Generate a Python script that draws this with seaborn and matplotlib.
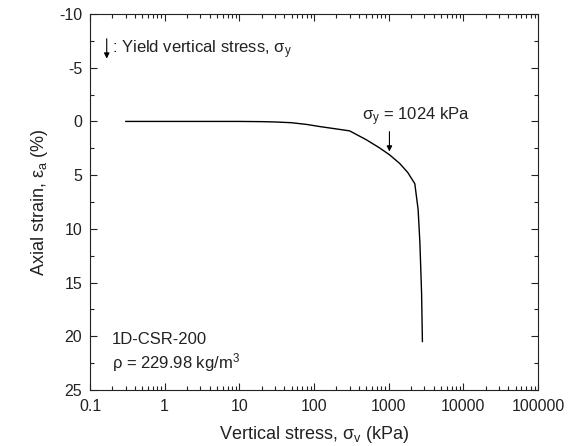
import numpy as np
import pandas as pd
import matplotlib
matplotlib.use("Agg")
import matplotlib.pyplot as plt
import seaborn as sns
from matplotlib.ticker import LogLocator, FixedLocator, NullFormatter, FixedFormatter

# ---- data ----
stress_kpa = [0.3, 1, 3, 10, 20, 30, 50, 80, 120, 200, 300, 500, 750, 1024,
              1400, 1800, 2240, 2480, 2620, 2760, 2830]
strain_pct = [0.0, 0.0, 0.0, 0.0, 0.02, 0.05, 0.12, 0.28, 0.48, 0.70, 0.88,
              1.70, 2.45, 3.10, 3.90, 4.75, 5.80, 8.20, 11.30, 16.00, 20.50]
yield_stress = 1024
x_ticks = [0.1, 1, 10, 100, 1000, 10000, 100000]
x_ticklabels = ["0.1", "1", "10", "100", "1000", "10000", "100000"]
y_ticks = [-10, -5, 0, 5, 10, 15, 20, 25]
sample_name = "1D-CSR-200"
density_text = "ρ = 229.98 kg/m$^3$"

df = pd.DataFrame({"stress": stress_kpa, "strain": strain_pct})

sns.set_style("ticks")
plt.rcParams["font.family"] = ["Liberation Sans", "DejaVu Sans"]
plt.rcParams["mathtext.fontset"] = "custom"
plt.rcParams["mathtext.rm"] = "Liberation Sans"
plt.rcParams["mathtext.it"] = "Liberation Sans:italic"
plt.rcParams["axes.unicode_minus"] = False
plt.rcParams["font.size"] = 12

fig = plt.figure(figsize=(5.72, 4.46), dpi=100)
ax = fig.add_axes([90/572, 1-390/446, 448/572, 376/446])

sns.lineplot(data=df, x="stress", y="strain", sort=False, estimator=None,
             color="black", linewidth=1.0, ax=ax)

ax.set_xscale("log")
ax.set_xlim(0.1, 100000)
ax.set_ylim(25, -10)

ax.xaxis.set_major_locator(FixedLocator(x_ticks))
ax.xaxis.set_major_formatter(FixedFormatter(x_ticklabels))
ax.xaxis.set_minor_locator(LogLocator(base=10, subs=np.arange(2, 10), numticks=20))
ax.xaxis.set_minor_formatter(NullFormatter())
ax.yaxis.set_major_locator(FixedLocator(y_ticks))
ax.yaxis.set_minor_locator(FixedLocator(np.arange(-10, 25.1, 2.5)))

ax.tick_params(which="both", direction="in", top=True, right=True,
               labelsize=11.5, colors="#222222", width=0.8)
ax.tick_params(which="major", length=5)
ax.tick_params(which="minor", length=3)
ax.tick_params(axis="x", which="major", pad=6.5)
ax.tick_params(axis="y", which="major", pad=5.5)
for s in ax.spines.values():
    s.set_linewidth(0.8)
    s.set_color("#222222")
    s.set_visible(True)

ax.set_xlabel("Vertical stress, σ$_\\mathrm{v}$ (kPa)", fontsize=13, labelpad=7,
              color="#222222")
ax.set_ylabel("Axial strain, ε$_\\mathrm{a}$ (%)", fontsize=13, labelpad=7,
              color="#222222")

# yield arrow and label
ax.annotate("", xy=(yield_stress, 2.8), xytext=(yield_stress, 0.95),
            arrowprops=dict(arrowstyle="-|>", color="black", lw=0.8,
                            mutation_scale=8, shrinkA=0, shrinkB=0))
ax.text(433, -0.45, "σ$_\\mathrm{y}$ = 1024 kPa", fontsize=12,
        ha="left", va="center", color="#222222")

# legend-like note
ax.annotate("", xy=(0.1675, -5.85), xytext=(0.1675, -7.7),
            arrowprops=dict(arrowstyle="-|>", color="black", lw=0.8,
                            mutation_scale=8, shrinkA=0, shrinkB=0))
ax.text(0.197, -6.65, ": Yield vertical stress, σ$_\\mathrm{y}$", fontsize=12,
        ha="left", va="center", color="#222222")

ax.text(0.049, 0.133, sample_name, transform=ax.transAxes, fontsize=12,
        ha="left", va="center", color="#222222")
ax.text(0.049, 0.072, density_text, transform=ax.transAxes, fontsize=12,
        ha="left", va="center", color="#222222")

fig.savefig("out.png", dpi=100)
